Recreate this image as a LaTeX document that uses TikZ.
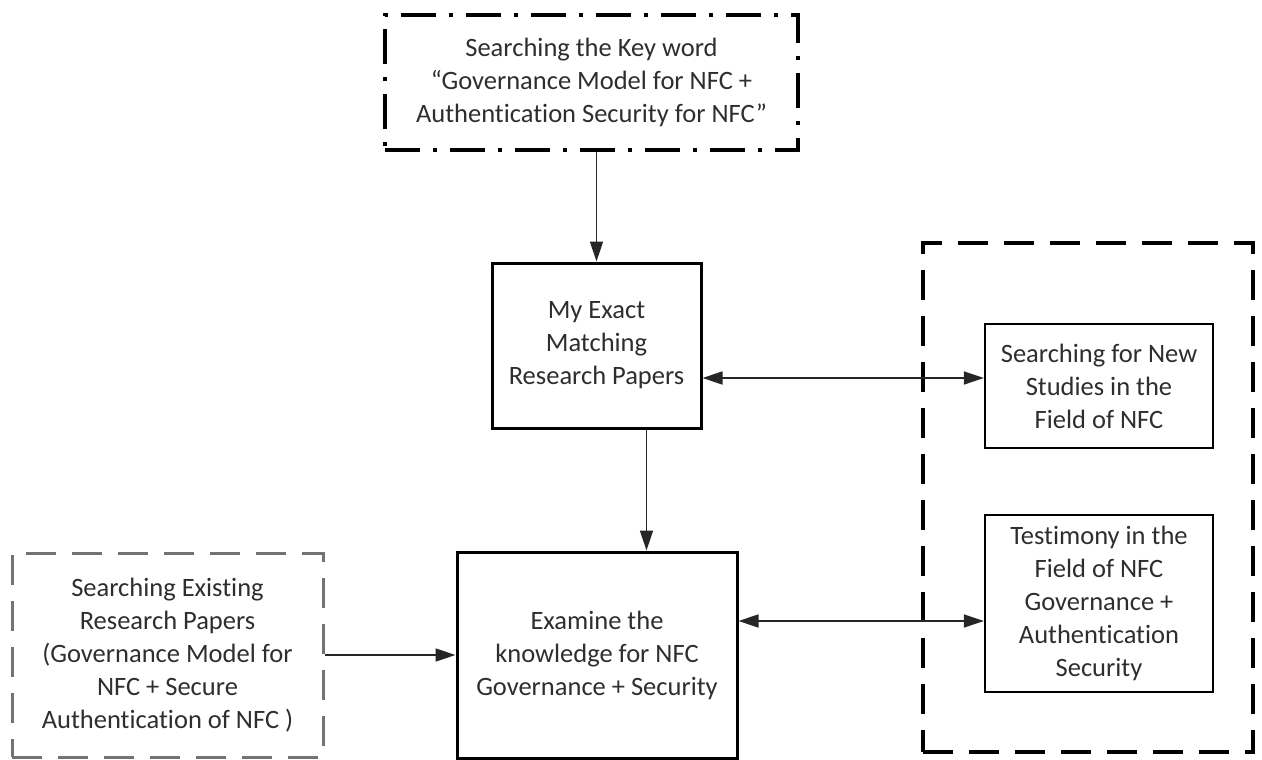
\documentclass[tikz,border=0pt]{standalone}
\usepackage{fontspec}
\setmainfont{Carlito}[Ligatures=NoCommon]
\usetikzlibrary{arrows.meta}
\begin{document}
\begin{tikzpicture}[x=1pt,y=-1pt,
  every node/.style={font=\fontsize{26.5}{33}\selectfont, text=black!82, align=center, inner sep=0pt, rectangle},
  solidbox/.style={draw=black, line width=3pt},
  innerbox/.style={draw=black, line width=2.2pt},
  keybox/.style={draw=black, line width=4pt, dash pattern=on 35pt off 13pt on 4pt off 13pt},
  groupbox/.style={draw=black, line width=4pt, dash pattern=on 30pt off 16pt},
  srcbox/.style={draw=black!55, line width=3pt, dash pattern=on 30pt off 16pt},
  tip/.tip={Triangle[length=20pt,width=13pt]},
  link/.style={draw=black!85, line width=1.5pt, -tip},
  blink/.style={draw=black!85, line width=1.5pt, tip-tip}]
\useasboundingbox (0,0) rectangle (1262,760);

\node[groupbox, minimum width=330pt, minimum height=509pt] (group) at (1088,497.5) {};

\node[keybox, minimum width=413pt, minimum height=135pt] (key) at (591.5,82.5)
  {Searching the Key word\\``Governance Model for NFC +\\Authentication Security for NFC''};
\node[solidbox, minimum width=209pt, minimum height=165pt] (exact) at (596.5,345.5)
  {My Exact\\Matching\\Research Papers};
\node[solidbox, minimum width=280pt, minimum height=206pt] (examine) at (597,655)
  {Examine the\\knowledge for NFC\\Governance + Security};
\node[innerbox, minimum width=228pt, minimum height=124pt] (new) at (1099,386)
  {Searching for New\\Studies in the\\Field of NFC};
\node[innerbox, minimum width=228pt, minimum height=177pt] (testimony) at (1099,603.5)
  {Testimony in the\\Field of NFC\\Governance +\\Authentication\\Security};
\node[srcbox, minimum width=311pt, minimum height=204pt] (source) at (167.5,655)
  {Searching Existing\\Research Papers\\(Governance Model for\\NFC + Secure\\Authentication of NFC )};

\draw[link] (key.south -| exact.north) -- (exact.north);
\draw[link] ([xshift=50pt]exact.south) -- ([xshift=50pt]exact.south |- examine.north);
\draw[blink] ([yshift=-32.5pt]exact.east) -- ([yshift=-32.5pt]exact.east -| new.west);
\draw[blink] ([yshift=34pt]examine.east) -- ([yshift=34pt]examine.east -| testimony.west);
\draw[link] (source.east) -- (source.east -| examine.west);
\end{tikzpicture}
\end{document}
